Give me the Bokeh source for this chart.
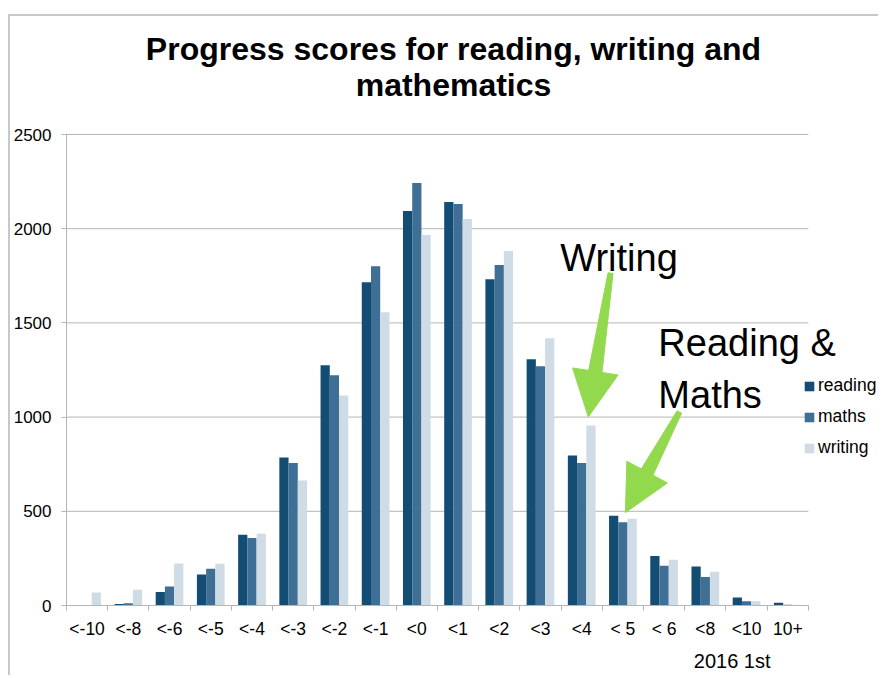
import math
from bokeh.plotting import figure
from bokeh.models import (ColumnDataSource, Range1d, FixedTicker, Legend, LegendItem,
                          Label, Arrow, NormalHead, Title)
from bokeh.embed import file_html
from bokeh.resources import INLINE

# ---- data ----
categories = ["<-10", "<-8", "<-6", "<-5", "<-4", "<-3", "<-2", "<-1", "<0", "<1",
              "<2", "<3", "<4", "< 5", "< 6", "<8", "<10", "10+"]
reading = [0, 8, 71, 165, 376, 786, 1275, 1716, 2094, 2142, 1732, 1307, 796, 477, 263, 207, 43, 14]
maths = [0, 12, 101, 195, 358, 757, 1222, 1801, 2243, 2131, 1807, 1270, 757, 442, 211, 151, 23, 4]
writing = [69, 83, 223, 222, 381, 663, 1115, 1557, 1966, 2051, 1881, 1419, 956, 460, 243, 179, 23, 2]
series_names = ["reading", "maths", "writing"]
y_ticks = [0, 500, 1000, 1500, 2000, 2500]
y_max = 2500
title_lines = ["Progress scores for reading, writing and", "mathematics"]

# annotation arrows (data coordinates: category index, value)
arrow_writing = dict(x_start=13.20, y_start=1764, x_end=12.66, y_end=1001)
arrow_rm = dict(x_start=14.87, y_start=1027, x_end=13.56, y_end=493)

FONT = "Liberation Sans"
GREEN = "#93d94e"
colors = ["#134d74", "#3f6f95", "#cfdbe5"]
GRID = "#b5b5b5"

n = len(categories)
centers = [i + 0.5 for i in range(n)]
boundaries = list(range(n + 1))

# the value range is extended upwards (headroom holds the title); axis is bounded to 0..2500
PLOT_H = 471          # pixels spanned by 0..2500
HEADROOM = 118        # pixels above 2500 for the title
FRAME_W = 814
X_END = n + 1.75
p = figure(width=870, height=PLOT_H + HEADROOM + 72, output_backend="svg", toolbar_location=None,
           x_range=Range1d(0, X_END),
           y_range=Range1d(0, y_max * (PLOT_H + HEADROOM) / PLOT_H),
           min_border_left=56, min_border_right=0, min_border_top=0, min_border_bottom=72)
p.styles = {"border-top": "2px solid #c8c8c8", "border-left": "2px solid #c8c8c8",
            "margin": "14px 0px 0px 8px"}
p.outline_line_color = None
p.background_fill_color = "white"
p.border_fill_color = "white"

# horizontal gridlines, limited to the category span
p.segment(x0=[0] * len(y_ticks), x1=[n] * len(y_ticks), y0=y_ticks, y1=y_ticks,
          line_color=GRID, line_width=1)

bar_w = 0.224
offsets = [-bar_w, 0.0, bar_w]
renderers = []
for name, vals, off, col in zip(series_names, [reading, maths, writing], offsets, colors):
    src = ColumnDataSource(dict(x=[c + off for c in centers], top=vals))
    r = p.vbar(x="x", top="top", bottom=0, width=bar_w, source=src,
               fill_color=col, line_color=None)
    renderers.append(r)

# axes
xa = p.xaxis[0]
xa.bounds = (0, n)
xa.ticker = FixedTicker(ticks=centers, minor_ticks=boundaries)
xa.major_label_overrides = {c: lab for c, lab in zip(centers, categories)}
xa.major_tick_line_color = None
xa.minor_tick_line_color = GRID
xa.minor_tick_out = 5
xa.minor_tick_in = 0
xa.axis_line_color = GRID
xa.major_label_text_font = FONT
xa.major_label_text_font_size = "17.5px"
xa.major_label_text_color = "black"
xa.major_label_standoff = 7

ya = p.yaxis[0]
ya.bounds = (0, y_max)
ya.ticker = FixedTicker(ticks=y_ticks)
ya.axis_line_color = GRID
ya.major_tick_line_color = GRID
ya.major_tick_out = 5
ya.major_tick_in = 0
ya.minor_tick_line_color = None
ya.major_label_text_font = FONT
ya.major_label_text_font_size = "17px"
ya.major_label_text_color = "black"
ya.major_label_standoff = 10

p.xgrid.grid_line_color = None
p.ygrid.grid_line_color = None

# legend
legend = Legend(items=[LegendItem(label=nm, renderers=[r]) for nm, r in zip(series_names, renderers)],
                location=(737, 147), orientation="vertical",
                label_text_font=FONT, label_text_font_size="17.5px", label_text_color="black",
                glyph_width=12, glyph_height=12, label_height=20, spacing=10,
                label_standoff=3, padding=0, margin=0,
                background_fill_alpha=0, border_line_color=None)
p.add_layout(legend, "center")

# title (two centred lines, in the headroom above the value axis)
for txt, yy in zip(title_lines, [557, 521]):
    p.add_layout(Label(x=387, y=yy, x_units="screen", y_units="screen", text=txt,
                       text_font=FONT, text_font_style="bold", text_font_size="32px",
                       text_align="center", text_baseline="alphabetic", text_color="black"))

# note under the axis
p.add_layout(Title(text="2016 1st", align="right", offset=110, standoff=12,
                   text_font=FONT, text_font_style="normal", text_font_size="20px",
                   text_color="black"), "below")

# annotations
for txt, xx, yy in [("Writing", 11.98, 1847), ("Reading &", 14.36, 1391), ("Maths", 14.36, 1115)]:
    p.add_layout(Label(x=xx, y=yy, text=txt, text_font=FONT, text_font_size="38px",
                       text_align="left", text_baseline="alphabetic", text_color="black"))

# green arrows: tapered shaft + filled head
HEAD = 46
sx = FRAME_W / X_END     # px per category unit
sy = PLOT_H / y_max      # px per value unit
for a in [arrow_writing, arrow_rm]:
    tx, ty = a["x_start"] * sx, a["y_start"] * sy
    ex, ey = a["x_end"] * sx, a["y_end"] * sy
    L = math.hypot(ex - tx, ey - ty)
    dx, dy = (ex - tx) / L, (ey - ty) / L
    nx, ny = -dy, dx
    bx, by = ex - dx * (HEAD - 6), ey - dy * (HEAD - 6)
    w0, w1 = 2.5, 7.0
    xs = [tx + nx * w0, bx + nx * w1, bx - nx * w1, tx - nx * w0]
    ys = [ty + ny * w0, by + ny * w1, by - ny * w1, ty - ny * w0]
    p.patch(x=[v / sx for v in xs], y=[v / sy for v in ys], fill_color=GREEN, line_color=GREEN,
            line_width=1)
    p.add_layout(Arrow(**a, line_alpha=0, line_width=1,
                       end=NormalHead(size=HEAD, fill_color=GREEN, line_color=GREEN, line_width=1)))

open("out.html", "w").write(file_html(p, INLINE))
